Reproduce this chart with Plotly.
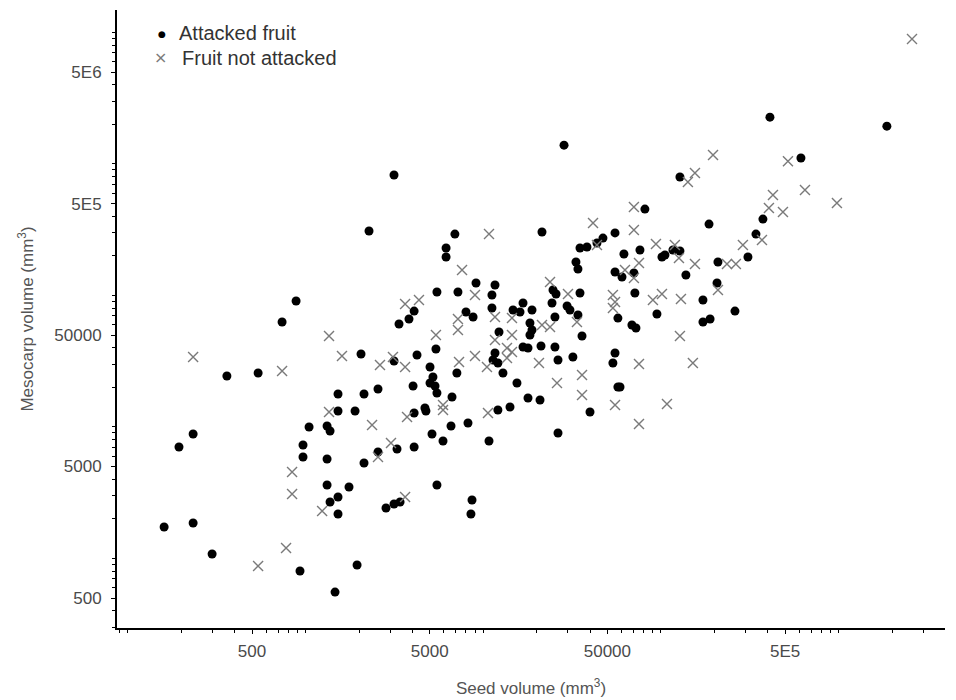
import plotly.graph_objects as go

# Attacked fruit (seed volume mm3, mesocarp volume mm3)
attacked_seed = [361, 541, 1047, 1322, 1374, 233, 194, 968, 968, 1322, 1322, 1374, 160, 233, 298, 931,
                 1466, 1950, 1524, 1900, 4085, 4760, 6590, 8210, 5150, 5940, 4085, 3273, 2558, 2134,
                 1757, 5490, 1524, 1524, 2837, 3148, 3404, 8650, 8530, 885, 738, 2277, 6930, 6180,
                 6180, 9110, 5490, 7210, 4085, 3822, 3359, 8000, 8770, 5420, 2053, 3148, 4240, 7110,
                 5020, 5215, 5020, 5355, 5490, 4029, 2558, 2134, 1524, 6675, 4700, 21420, 35050,
                 38370, 43680, 47200, 55200, 33270, 34140, 55200, 11650, 11200, 24710, 25690, 35050,
                 16750, 14720, 18820, 16110, 11200, 24390, 29650, 30780, 25340, 34140, 18330, 18820,
                 18330, 57300, 12270, 35980, 16750, 17870, 21150, 25340, 11650, 11350, 12100, 12920,
                 26360, 31980, 55200, 53700, 15490, 57300, 17870, 20880, 12100, 14150, 39900, 10780,
                 26360, 128000, 375200, 81300, 186600, 342800, 309000, 128000, 116900, 101400,
                 105400, 209500, 61940, 76250, 60400, 70500, 138300, 207000, 71400, 172500, 261200,
                 95000, 172500, 189200, 68700, 72400, 58880, 1870000, 410900, 614000, 3148, 28500]
attacked_meso = [24400, 25720, 9990, 10160, 9310, 8835, 7040, 7290, 5905, 5703, 3618, 2686, 1734, 1860,
                 1080, 802, 555, 891, 13220, 13220, 12760, 13220, 10160, 10710, 8835, 7815, 7040,
                 6800, 6447, 5318, 3494, 3618, 2931, 2177, 2418, 2594, 2686, 2781, 2177, 90700, 62800,
                 309000, 293000, 229500, 196000, 124300, 106200, 106200, 76100, 66200, 60700, 74800,
                 68600, 39150, 35860, 31720, 35240, 25720, 28560, 23970, 21590, 20480, 18120, 20480,
                 19430, 17800, 17800, 16890, 13930, 304000, 229500, 233600, 250500, 273000, 299000,
                 179600, 158900, 150800, 120100, 100800, 110000, 102500, 104400, 87600, 77500, 77500,
                 74800, 80300, 87600, 83100, 77500, 68600, 71000, 61700, 54600, 50000, 67300, 52700,
                 49150, 40550, 39840, 41260, 40550, 36500, 32280, 30630, 25720, 32280, 34030, 36500,
                 30630, 21590, 20130, 16600, 16030, 13450, 14180, 12990, 7815, 8990, 796000, 381000,
                 454000, 349000, 293000, 196000, 217800, 221600, 196000, 203000, 179600, 206600,
                 221600, 138100, 148100, 143000, 124300, 104400, 92300, 76100, 72300, 62800, 66200,
                 59600, 56600, 20130, 1940000, 2270000, 1110000, 824000, 1390000]

# Fruit not attacked
not_attacked_seed = [233, 738, 1356, 1356, 840, 840, 1240, 777, 541, 2368, 3727, 5940, 3027, 2558, 3634,
                     7600, 8990, 3634, 4350, 7210, 7210, 5420, 1604, 2625, 3105, 3634, 8990, 7310, 5940,
                     10780, 43680, 23770, 30000, 53700, 55200, 53700, 11650, 14520, 33700, 21420, 23770,
                     11650, 14520, 13610, 14520, 10500, 13610, 20600, 35980, 26020, 35980, 10640, 55200,
                     196500, 155500, 141900, 427300, 405500, 70500, 70500, 370600, 289500, 93800, 119900,
                     126400, 155500, 235500, 264300, 75300, 62800, 70500, 209500, 90200, 101400, 129700,
                     128000, 75300, 151400, 108200, 75300, 2590000, 519000, 647000, 486400, 979000, 41500]
not_attacked_meso = [34030, 26630, 49150, 12990, 4542, 3090, 2294, 1200, 876, 10340, 11900, 13450, 7550,
                     5905, 2931, 156100, 100800, 86100, 92300, 66200, 54600, 50000, 34630, 29580, 34030,
                     28560, 34630, 31170, 14690, 293000, 241900, 126500, 102500, 100800, 89100, 80300,
                     68600, 67300, 62800, 59600, 57500, 45800, 50000, 39840, 37140, 28560, 33440, 30630,
                     24830, 21590, 17490, 12760, 14690, 1170000, 853000, 729000, 580000, 462000, 471000,
                     315000, 264000, 241900, 246000, 241900, 192600, 173400, 173400, 173400, 176600,
                     156100, 135700, 110000, 92300, 102500, 94000, 49150, 30100, 30630, 14940, 10530,
                     8910000, 1050000, 634000, 431000, 505000, 356000]

series_names = ["Attacked fruit", "Fruit not attacked"]
tick_vals = [500, 5000, 50000, 500000, 5000000]
x_tick_text = ["500", "5000", "50000", "5E5"]
y_tick_text = ["500", "5000", "50000", "5E5", "5E6"]
minor_vals = [k * 10 ** n for n in range(1, 8) for k in range(1, 10)]

FONT = "Liberation Sans, Arial, sans-serif"
DOT_COLOR = "black"
X_COLOR = "#7a7a7a"

fig = go.Figure()
fig.add_trace(go.Scatter(
    x=attacked_seed, y=attacked_meso, mode="markers", name=series_names[0],
    marker=dict(symbol="circle", size=9, color=DOT_COLOR, line=dict(width=0)),
))
fig.add_trace(go.Scatter(
    x=not_attacked_seed, y=not_attacked_meso, mode="markers", name=series_names[1],
    marker=dict(symbol="x-thin", size=10, color=X_COLOR, line=dict(width=1.4, color=X_COLOR)),
))

axis_common = dict(
    type="log", showgrid=False, zeroline=False, showline=True, linecolor="black", linewidth=2,
    ticks="outside", ticklen=4, tickwidth=1, tickcolor="black",
    tickfont=dict(family=FONT, size=17, color="#4a4a4a"),
    minor=dict(tickmode="array", tickvals=minor_vals, ticks="outside", ticklen=3, tickcolor="black"),
)

fig.update_xaxes(
    **axis_common, range=[1.939, 6.599], tickmode="array", tickvals=tick_vals[:4], ticktext=x_tick_text,
    ticklabelstandoff=3,
    title=dict(text="Seed volume (mm<sup>3</sup>)", standoff=22, font=dict(family=FONT, size=17, color="#555555")),
)
fig.update_yaxes(
    **axis_common, range=[2.471, 7.171], tickmode="array", tickvals=tick_vals, ticktext=y_tick_text,
    ticklabelstandoff=6,
    title=dict(text="Mesocarp volume (mm<sup>3</sup>)", standoff=16, font=dict(family=FONT, size=17, color="#555555")),
)

# legend drawn as text entries in the top-left corner of the plot
fig.add_annotation(text="●", x=0.054, y=0.961, xref="paper", yref="paper", showarrow=False,
                   font=dict(family="DejaVu Sans", size=9, color=DOT_COLOR), xanchor="center", yanchor="middle")
fig.add_annotation(text=series_names[0], x=0.072, y=0.963, xref="paper", yref="paper", showarrow=False,
                   font=dict(family=FONT, size=20, color="#333333"), xanchor="left", yanchor="middle")
fig.add_annotation(text="×", x=0.052, y=0.923, xref="paper", yref="paper", showarrow=False,
                   font=dict(family="DejaVu Sans", size=16, color=X_COLOR), xanchor="center", yanchor="middle")
fig.add_annotation(text=series_names[1], x=0.076, y=0.923, xref="paper", yref="paper", showarrow=False,
                   font=dict(family=FONT, size=20, color="#333333"), xanchor="left", yanchor="middle")

# the page body adds an 8px offset, so the figure is sized to fill the rest of the window
fig.update_layout(
    width=948, height=692, plot_bgcolor="white", paper_bgcolor="white",
    margin=dict(l=109, r=11, t=2, b=72),
    showlegend=False,
)

fig.write_html("out.html")
